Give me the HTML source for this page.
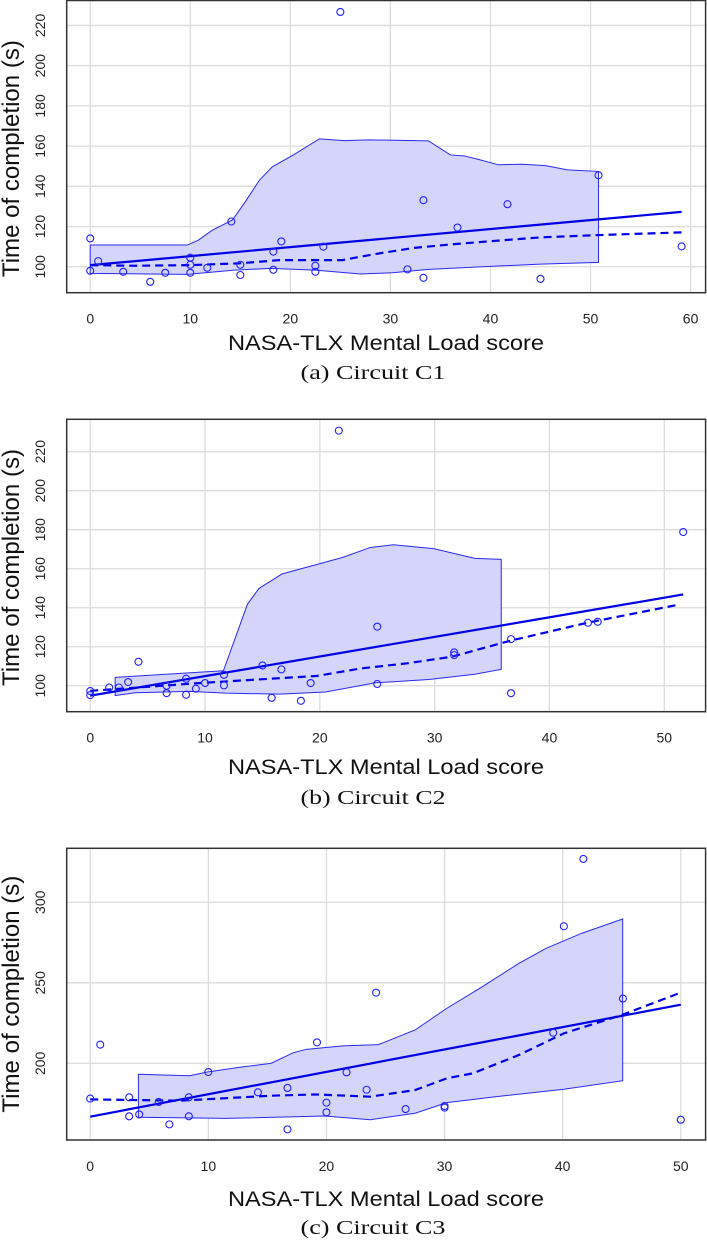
<!DOCTYPE html>
<html><head><meta charset="utf-8">
<style>
html,body{margin:0;padding:0;background:#fff;}
svg{display:block;}
</style></head>
<body>
<svg id="fig" width="707" height="1240" viewBox="0 0 707 1240" xmlns="http://www.w3.org/2000/svg"></svg>
<script>
// ---------- Panel A data ----------
const aX=[0,0,0.8,3.3,6,7.5,10,10,10,11.7,14.1,15,15,18.3,18.3,19.1,22.5,22.5,23.3,25,31.7,33.3,33.3,36.7,41.7,45,50.8,59.1];
const aY=[114.1,98,102.8,97.5,92.5,97,104.5,101,97,99.5,122.5,101,95.9,107.5,98.5,112.6,100.5,97.5,110,226.7,98.7,133.1,94.5,119.5,131.1,94,145.5,110.1];
const aUpX=[0,9.7,10.8,12.2,14.2,15.5,16.9,18.2,20.3,22.9,25.4,27.9,33.8,36.0,37.4,38.7,40.8,43.2,45.5,47.7,50.8];
const aUpY=[110.8,110.8,113.2,118.2,123.2,132.3,143.0,149.7,155.6,163.6,162.7,163.1,162.6,155.6,155.1,153.5,150.7,151.0,150.3,148.2,147.4];
const aLoX=[0,9.7,14.4,18.0,22.5,27.0,30.2,33.8,40.5,45.0,50.8];
const aLoY=[96.7,96.2,98.3,99.2,98.3,96.4,97.0,98.7,100.3,101.3,102.2];
const aFitX=[0,59.1];
const aFitY=[100.8,127.3];
const aLsX=[0,4.5,9.9,14.9,18.9,23.4,25.2,27,29.3,32.4,36,40.5,45,50.5,59.1];
const aLsY=[100.8,100.5,100.8,101.7,103.3,103.3,103.3,105,107,109.4,111.1,112.9,114.6,115.7,117.1];
const aXTicks=[0,10,20,30,40,50,60];
const aYTicks=[100,120,140,160,180,200,220];
// ---------- Panel B data ----------
const bX=[0,0,1.65,2.5,3.3,4.2,6.65,6.65,8.35,8.35,9.2,10,11.65,11.65,15,15.8,16.65,18.35,19.2,21.65,25,25,31.7,31.7,36.65,36.65,43.35,44.2,51.65];
const bY=[97.3,95.2,99.1,99.1,101.9,112.3,100,96.2,103.6,95.4,98.5,101.4,105.6,100.2,110.4,93.8,108.4,92.3,101.4,230.8,130.3,100.9,115.7,117.1,123.9,96.2,132.3,132.8,178.8];
const bUpX=[2.17,11.6,13.7,14.7,16.7,22.0,24.4,26.4,29.9,33.5,35.8];
const bUpY=[104.3,107.7,141.9,149.9,157.3,165.8,170.9,172.3,170.3,165.3,164.8];
const bLoX=[2.17,3.9,8.7,11.8,16.5,20.5,24.8,29.5,33.5,35.8];
const bLoY=[95.0,96.4,97.1,96.2,95.7,96.8,101.5,103.2,105.9,108.4];
const bFitX=[0,51.65];
const bFitY=[94.9,146.8];
const bLsX=[0,5.1,9.8,15.7,19.7,23.6,27.6,31.5,36.6,43.3,51.2];
const bLsY=[97.4,99.5,101.5,103.6,105,108.9,111.5,114.9,123.1,132.3,141.5];
const bXTicks=[0,10,20,30,40,50];
const bYTicks=[100,120,140,160,180,200,220];
// ---------- Panel C data ----------
const cX=[0,0.85,3.3,3.3,4.15,5.8,6.7,8.35,8.35,10,14.2,16.7,16.7,19.2,20,20,21.7,23.4,24.2,26.7,30,30,39.2,40.1,41.75,45.1,50];
const cY=[178.1,211.6,178.9,167.1,168.3,176,162.1,178.9,167.1,194.6,182,184.7,159,213,175.6,169.6,194.4,183.6,243.9,171.6,173.5,172.5,219,285.1,326.9,240.2,165];
const cUpX=[4.08,8.4,9.92,12.6,15.3,17.2,18.3,21.4,24.4,27.5,30.2,33.2,36.3,38.6,41.6,45.08];
const cUpY=[193.2,192.3,194.6,197.5,200,206.6,208.7,210.8,211.6,220.7,234.2,247.6,262.1,271.4,280.7,289.6];
const cLoX=[4.08,11.45,19.85,23.7,27.5,30.2,34.4,40.1,45.08];
const cLoY=[166.5,165.8,167.3,165.0,169.0,175.6,179.3,183.9,189.2];
const cFitX=[0,50];
const cFitY=[166.9,236.4];
const cLsX=[0,7.6,15.3,19.1,23.7,27.5,30.2,32.4,36.3,40.1,45,50];
const cLsY=[177.6,176.8,179.9,180.7,179.3,183.4,190.7,193.8,205.2,218.6,230,243.9];
const cXTicks=[0,10,20,30,40,50];
const cYTicks=[200,250,300];

const NS="http://www.w3.org/2000/svg";
const svg=document.getElementById('fig');
function mk(tag,attrs,parent){const e=document.createElementNS(NS,tag);for(const k in attrs)e.setAttribute(k,attrs[k]);(parent||svg).appendChild(e);return e;}

function panel(cfg){
  const g=mk('g',{});
  
  
  const L=66.7,R=705.6,T=cfg.top,B=cfg.bottom;
  const sx=v=>L+(v-cfg.xmin)/(cfg.xmax-cfg.xmin)*(R-L);
  const sy=v=>B-(v-cfg.ymin)/(cfg.ymax-cfg.ymin)*(B-T);
  cfg.xt.forEach(t=>{const l=mk('line',{x1:sx(t),x2:sx(t),y1:T,y2:B,stroke:'#dcdcdc','stroke-width':1.3},g);
    
    });
  cfg.yt.forEach(t=>{const l=mk('line',{x1:L,x2:R,y1:sy(t),y2:sy(t),stroke:'#dcdcdc','stroke-width':1.3},g);
    
    });
  let d='';
  cfg.upX.forEach((x,i)=>{d+=(i?'L':'M')+sx(x)+','+sy(cfg.upY[i]);});
  for(let i=cfg.loX.length-1;i>=0;i--){d+='L'+sx(cfg.loX[i])+','+sy(cfg.loY[i]);}
  d+='Z';
  const band=mk('path',{d:d,fill:'#d5d5fb',stroke:'#2a2af0','stroke-width':1},g);
  
  
  const fit=mk('line',{x1:sx(cfg.fitX[0]),y1:sy(cfg.fitY[0]),x2:sx(cfg.fitX[1]),y2:sy(cfg.fitY[1]),stroke:'#0000e6','stroke-width':2.2},g);
  
  
  const pts=cfg.lsX.map((x,i)=>sx(x)+','+sy(cfg.lsY[i])).join(' ');
  const ls=mk('polyline',{points:pts,fill:'none',stroke:'#0000e6','stroke-width':2.2,'stroke-dasharray':'8,5'},g);
  
  
  cfg.px.forEach((x,i)=>{const c=mk('circle',{cx:sx(x),cy:sy(cfg.py[i]),r:3.5,fill:'none',stroke:'#2020ff','stroke-width':1.1},g);
    
    });
  const box=mk('rect',{x:L,y:T,width:R-L,height:B-T,fill:'none',stroke:'#333','stroke-width':1.5},g);
  
  
  cfg.xt.forEach(t=>{const tx=mk('text',{x:sx(t),y:B+31,'text-anchor':'middle','font-family':'Liberation Sans, sans-serif','font-size':14,fill:'#222'},g);
    tx.textContent=t;
    
    });
  cfg.yt.forEach(t=>{const y=sy(t);const tx=mk('text',{x:45,y:y,'text-anchor':'middle','font-family':'Liberation Sans, sans-serif','font-size':14,fill:'#222',transform:`rotate(-90 45 ${y})`},g);
    tx.textContent=t;
    
    });
  const yc=(T+B)/2+cfg.ytOff;
  const yt=mk('text',{x:19,y:yc,'text-anchor':'middle','font-family':'Liberation Sans, sans-serif','font-size':24,fill:'#111',transform:`rotate(-90 19 ${yc})`,textLength:237,lengthAdjust:'spacingAndGlyphs'},g);
  yt.textContent='Time of completion (s)';
  
  
  const xt=mk('text',{x:386,y:cfg.xlY,'text-anchor':'middle','font-family':'Liberation Sans, sans-serif','font-size':21,fill:'#111',textLength:316,lengthAdjust:'spacingAndGlyphs'},g);
  xt.textContent='NASA-TLX Mental Load score';
  
  
  const cap=mk('text',{x:373,y:cfg.capY,'text-anchor':'middle','font-family':'Liberation Serif, serif','font-size':20,fill:'#111',textLength:145,lengthAdjust:'spacingAndGlyphs'},g);
  cap.textContent=cfg.caption;
  
  
}

panel({name:'panel-circuit-c1',top:0.5,bottom:292.7,xmin:-2.35,xmax:61.5,ymin:87.1,ymax:232.4,
  xt:aXTicks,yt:aYTicks,px:aX,py:aY,upX:aUpX,upY:aUpY,loX:aLoX,loY:aLoY,fitX:aFitX,fitY:aFitY,lsX:aLsX,lsY:aLsY,
  ytOff:12,xlY:350,capY:379,caption:'(a) Circuit C1'});
panel({name:'panel-circuit-c2',top:419.3,bottom:711.7,xmin:-2.05,xmax:53.6,ymin:86.7,ymax:236.6,
  xt:bXTicks,yt:bYTicks,px:bX,py:bY,upX:bUpX,upY:bUpY,loX:bLoX,loY:bLoY,fitX:bFitX,fitY:bFitY,lsX:bLsX,lsY:bLsY,
  ytOff:2,xlY:774,capY:804,caption:'(b) Circuit C2'});
panel({name:'panel-circuit-c3',top:848.3,bottom:1140,xmin:-1.99,xmax:52.1,ymin:152.4,ymax:333.5,
  xt:cXTicks,yt:cYTicks,px:cX,py:cY,upX:cUpX,upY:cUpY,loX:cLoX,loY:cLoY,fitX:cFitX,fitY:cFitY,lsX:cLsX,lsY:cLsY,
  ytOff:0,xlY:1206,capY:1234,caption:'(c) Circuit C3'});
</script>
</body></html>
